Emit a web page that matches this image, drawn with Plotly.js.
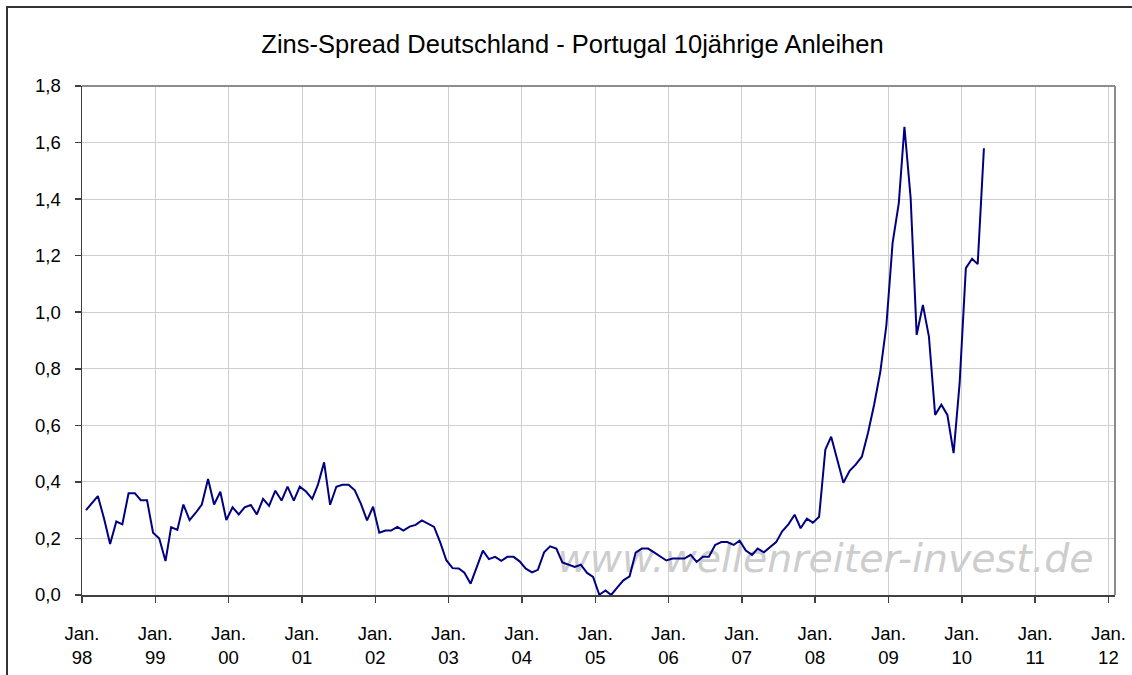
<!DOCTYPE html>
<html>
<head>
<meta charset="utf-8">
<script src="https://cdn.plot.ly/plotly-3.0.1.min.js"></script>
<style>
  html, body { margin: 0; padding: 0; background: #ffffff; }
  #chart { width: 1132px; height: 675px; }
</style>
</head>
<body>
<div id="chart"></div>
<script>
// Monthly spread (percentage points), Jan 1998 .. Apr 2010
const startYear = 1998;
const startMonth = 1;
const spreadValues = [
  0.30, 0.325, 0.35, 0.27, 0.18, 0.26, 0.25, 0.36, 0.36, 0.335, 0.335, 0.22,
  0.20, 0.12, 0.24, 0.23, 0.32, 0.265, 0.29, 0.32, 0.41, 0.32, 0.365, 0.265,
  0.31, 0.285, 0.31, 0.318, 0.285, 0.34, 0.315, 0.369, 0.334, 0.383, 0.334, 0.383,
  0.366, 0.34, 0.389, 0.469, 0.319, 0.383, 0.39, 0.39, 0.37, 0.323, 0.264, 0.312,
  0.22, 0.228, 0.228, 0.241, 0.228, 0.242, 0.248, 0.264, 0.251, 0.241, 0.185, 0.123,
  0.095, 0.094, 0.079, 0.04, 0.098, 0.157, 0.127, 0.135, 0.121, 0.135, 0.135, 0.119,
  0.093, 0.08, 0.089, 0.151, 0.172, 0.164, 0.115, 0.107, 0.099, 0.107, 0.078, 0.064,
  0.001, 0.016, 0.0, 0.027, 0.052, 0.066, 0.15, 0.164, 0.164, 0.151, 0.137, 0.122,
  0.129, 0.129, 0.129, 0.142, 0.117, 0.135, 0.135, 0.177, 0.187, 0.187, 0.177, 0.192,
  0.157, 0.142, 0.164, 0.151, 0.17, 0.187, 0.225, 0.25, 0.284, 0.236, 0.27, 0.256,
  0.277, 0.514, 0.56, 0.478, 0.397, 0.439, 0.461, 0.489, 0.575, 0.673, 0.79, 0.953,
  1.244, 1.386, 1.656, 1.403, 0.92, 1.026, 0.914, 0.637, 0.673, 0.637, 0.502, 0.749,
  1.156, 1.189, 1.17, 1.58
];
const tickYears = ['98','99','00','01','02','03','04','05','06','07','08','09','10','11','12'];
const yTickValues = [0, 0.2, 0.4, 0.6, 0.8, 1.0, 1.2, 1.4, 1.6, 1.8];
const chartTitle = 'Zins-Spread Deutschland - Portugal 10jährige Anleihen';
const watermark = 'www.wellenreiter-invest.de';

function pad(n) { return (n < 10 ? '0' : '') + n; }
const monthDates = spreadValues.map((v, i) => {
  const m0 = (startMonth - 1) + i;
  const y = startYear + Math.floor(m0 / 12);
  const m = (m0 % 12) + 1;
  return y + '-' + pad(m) + '-21';
});
const tickVals = tickYears.map((yy, i) => (startYear + i) + '-01-01');
const tickText = tickYears.map(yy => 'Jan.<br>' + yy);

const traces = [
  {
    type: 'scatter', mode: 'text',
    x: ['2008-02-22'], y: [0.115],
    text: [watermark],
    textfont: { family: 'DejaVu Sans', size: 39.5, color: '#cdcdcd', style: 'italic' },
    hoverinfo: 'skip', showlegend: false
  },
  {
    type: 'scatter', mode: 'lines',
    x: monthDates, y: spreadValues,
    line: { color: '#000080', width: 2 },
    showlegend: false
  }
];

const font = 'Liberation Sans, Arial, sans-serif';
const layout = {
  width: 1132, height: 675,
  margin: { l: 82, r: 17, t: 86, b: 80 },
  paper_bgcolor: '#ffffff', plot_bgcolor: '#ffffff',
  separators: ',.',
  font: { family: font, size: 18, color: '#000000' },
  title: {
    text: chartTitle,
    font: { family: font, size: 25.5, color: '#000000' },
    x: 572.5 / 1132, xref: 'container', xanchor: 'center',
    y: 1 - 44 / 675, yref: 'container', yanchor: 'middle'
  },
  xaxis: {
    type: 'date',
    range: ['1998-01-01', '2012-02-03'],
    tickmode: 'array', tickvals: tickVals, ticktext: tickText,
    ticks: 'outside', ticklen: 6, tickwidth: 1.5, tickcolor: '#404040',
    showgrid: true, gridcolor: '#cfcfcf', gridwidth: 1,
    showline: true, linecolor: '#404040', linewidth: 1.5,
    zeroline: false,
    tickfont: { family: font, size: 18.5, color: '#000000' },
    ticklabelstandoff: 15
  },
  yaxis: {
    range: [0, 1.8],
    tickmode: 'array', tickvals: yTickValues,
    tickformat: '.1f',
    ticks: 'outside', ticklen: 6, tickwidth: 1.5, tickcolor: '#404040',
    showgrid: true, gridcolor: '#cfcfcf', gridwidth: 1,
    showline: true, linecolor: '#404040', linewidth: 1.5,
    zeroline: false,
    tickfont: { family: font, size: 18.5, color: '#000000' },
    ticklabelstandoff: 10
  },
  shapes: [
    { type: 'line', xref: 'paper', yref: 'paper', x0: 0, x1: 1, y0: 1, y1: 1,
      line: { color: '#8c8c8c', width: 2 } },
    { type: 'line', xref: 'paper', yref: 'paper', x0: 1, x1: 1, y0: 0, y1: 1,
      line: { color: '#8c8c8c', width: 2 } },
    { type: 'rect', xref: 'paper', yref: 'paper',
      x0: (7 - 82) / 1033, x1: 1.06, y0: -0.25, y1: (595.3 - 7) / 509.2,
      line: { color: '#333333', width: 2 }, fillcolor: 'rgba(0,0,0,0)' }
  ]
};

Plotly.newPlot('chart', traces, layout, { displayModeBar: false, staticPlot: true });
</script>
</body>
</html>
